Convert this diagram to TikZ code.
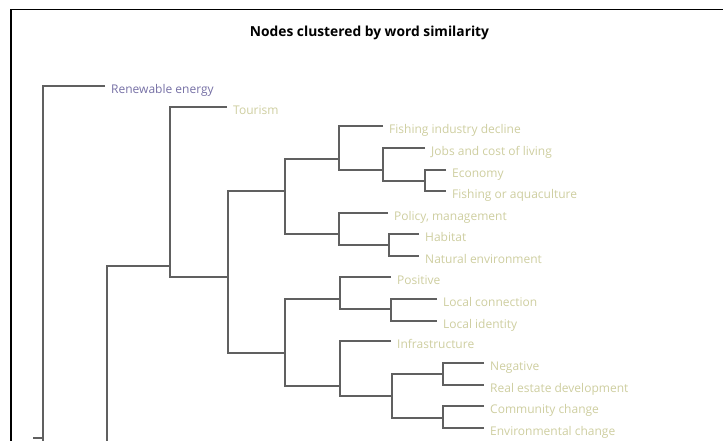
\documentclass[tikz,border=0pt]{standalone}
\usepackage{fontspec}
\setmainfont{Open Sans}
\definecolor{linkgray}{RGB}{96,96,96}
\definecolor{leafkhaki}{RGB}{206,206,160}
\definecolor{outpurple}{RGB}{118,112,165}

\begin{document}
\begin{tikzpicture}[x=1pt, y=-1pt,
    link/.style={linkgray, line width=1.3pt},
    leaf/.style={anchor=west, inner xsep=6pt, inner ysep=0pt, text height=18pt, text depth=3pt,
                 text=leafkhaki, font=\fontsize{12}{14}\selectfont}]
    \useasboundingbox (0,0) rectangle (723,441);
    \clip (0,0) rectangle (723,441);

    % Draw frame and title
    \draw[line width=1.2pt] (11,441) -- (11,9.5) -- (723,9.5);
    \node[font=\bfseries\fontsize{13.8}{16}\selectfont] (title) at (369.5,33) {Nodes clustered by word similarity};

    % Draw leaf labels
    \node[leaf, text=outpurple] (renew) at (105,86) {Renewable energy};
    \node[leaf] (tour) at (227,107) {Tourism};
    \node[leaf] (fid) at (383,126) {Fishing industry decline};
    \node[leaf] (jobs) at (425,148) {Jobs and cost of living};
    \node[leaf] (econ) at (446,170) {Economy};
    \node[leaf] (fish) at (446,191) {Fishing or aquaculture};
    \node[leaf] (pol) at (388,213) {Policy, management};
    \node[leaf] (hab) at (419,234) {Habitat};
    \node[leaf] (nat) at (419,256) {Natural environment};
    \node[leaf] (pos) at (391,277) {Positive};
    \node[leaf] (lcon) at (437,299) {Local connection};
    \node[leaf] (lid) at (437,321) {Local identity};
    \node[leaf] (infra) at (391,341) {Infrastructure};
    \node[leaf] (neg) at (484,363) {Negative};
    \node[leaf] (real) at (484,385) {Real estate development};
    \node[leaf] (comm) at (484,406) {Community change};
    \node[leaf] (env) at (484,428) {Environmental change};

    % Draw cluster joints
    \coordinate (econfish) at (425,181);
    \coordinate (jobsecon) at (383,170);
    \coordinate (fishing) at (339,159);
    \coordinate (habnat) at (389,245);
    \coordinate (policy) at (339,234);
    \coordinate (upper) at (285,191);
    \coordinate (local) at (391,309);
    \coordinate (positive) at (340,299);
    \coordinate (negreal) at (443,374);
    \coordinate (change) at (443,418);
    \coordinate (develop) at (392,396);
    \coordinate (infrast) at (340,386);
    \coordinate (lower) at (285,353);
    \coordinate (middle) at (228,277);
    \coordinate (tourism) at (170,266);
    \coordinate (below) at (107,460);
    \coordinate (root) at (43,438);
    \coordinate (rootend) at (43,460);
    \coordinate (stub) at (33,438);

    % Draw dendrogram links
    \draw[link] (econ.west) -| (econfish) |- (fish.west);
    \draw[link] (jobs.west) -| (jobsecon) |- (econfish);
    \draw[link] (fid.west) -| (fishing) |- (jobsecon);
    \draw[link] (hab.west) -| (habnat) |- (nat.west);
    \draw[link] (pol.west) -| (policy) |- (habnat);
    \draw[link] (fishing) -| (upper) |- (policy);
    \draw[link] (lcon.west) -| (local) |- (lid.west);
    \draw[link] (pos.west) -| (positive) |- (local);
    \draw[link] (neg.west) -| (negreal) |- (real.west);
    \draw[link] (comm.west) -| (change) |- (env.west);
    \draw[link] (negreal) -| (develop) |- (change);
    \draw[link] (infra.west) -| (infrast) |- (develop);
    \draw[link] (positive) -| (lower) |- (infrast);
    \draw[link] (upper) -| (middle) |- (lower);
    \draw[link] (tour.west) -| (tourism) |- (middle);
    \draw[link] (tourism) -| (below);
    \draw[link] (renew.west) -| (rootend);
    \draw[link] (root) -- (stub);
\end{tikzpicture}
\end{document}
